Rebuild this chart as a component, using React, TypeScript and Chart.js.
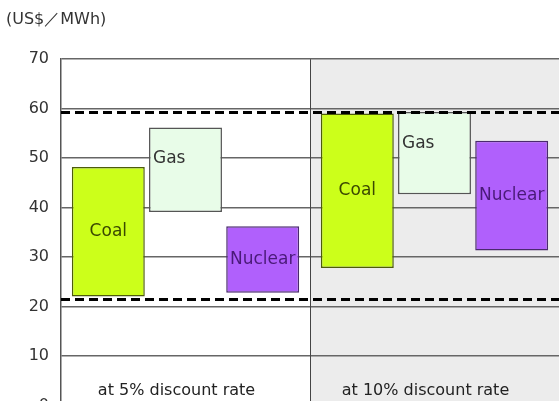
import React, { useEffect, useRef } from 'react';
import { Chart, registerables } from 'chart.js';

Chart.register(...registerables);

const categories = ['at 5% discount rate', 'at 10% discount rate'];
const coalRange: [number, number][] = [[22.0, 48.2], [27.8, 59.0]];
const gasRange: [number, number][] = [[39.1, 56.2], [42.7, 59.3]];
const nuclearRange: [number, number][] = [[22.8, 36.2], [31.3, 53.5]];
const rangeLines = [21.4, 59.2];
const yMin = 0;
const yMax = 70;
const yStep = 10;
const unitLabel = '(US$／MWh)';

const backgroundPlugin = {
  id: 'halfBackground',
  beforeDraw(chart: any) {
    const { ctx, chartArea, scales } = chart;
    const x = scales.x;
    const mid = (x.getPixelForValue(0) + x.getPixelForValue(1)) / 2;
    ctx.save();
    ctx.fillStyle = '#ececec';
    ctx.fillRect(mid, chartArea.top, chartArea.right - mid, chartArea.bottom - chartArea.top);
    ctx.restore();
  },
  beforeDatasetsDraw(chart: any) {
    const { ctx, chartArea, scales } = chart;
    const x = scales.x;
    const mid = Math.round((x.getPixelForValue(0) + x.getPixelForValue(1)) / 2) + 0.5;
    ctx.save();
    ctx.strokeStyle = '#444';
    ctx.lineWidth = 1;
    ctx.beginPath();
    ctx.moveTo(mid, chartArea.top);
    ctx.lineTo(mid, chartArea.bottom);
    ctx.stroke();
    ctx.restore();
  },
  afterDatasetsDraw(chart: any) {
    const { ctx, chartArea, scales } = chart;
    const y = scales.y;
    const x = scales.x;
    chart.data.datasets.forEach((ds: any, i: number) => {
      const meta = chart.getDatasetMeta(i);
      meta.data.forEach((el: any) => {
        const top = Math.min(el.y, el.base);
        const bottom = Math.max(el.y, el.base);
        ctx.save();
        ctx.font = '17px "DejaVu Sans", sans-serif';
        ctx.fillStyle = ds.labelColor;
        ctx.textBaseline = 'middle';
        if (ds.labelAnchor === 'topLeft') {
          ctx.textAlign = 'left';
          ctx.fillText(ds.label, el.x - el.width / 2 + 4, top + 31);
        } else {
          ctx.textAlign = 'center';
          ctx.fillText(ds.label, el.x, (top + bottom) / 2);
        }
        ctx.restore();
      });
    });
    ctx.save();
    ctx.strokeStyle = '#000';
    ctx.lineWidth = 3;
    ctx.setLineDash([9, 5]);
    rangeLines.forEach((v) => {
      const py = y.getPixelForValue(v);
      ctx.beginPath();
      ctx.moveTo(chartArea.left, py);
      ctx.lineTo(chartArea.right, py);
      ctx.stroke();
    });
    ctx.restore();
    ctx.save();
    ctx.font = '16px "DejaVu Sans", sans-serif';
    ctx.fillStyle = '#222';
    ctx.textAlign = 'center';
    ctx.textBaseline = 'middle';
    categories.forEach((c, i) => {
      ctx.fillText(c, x.getPixelForValue(i) - 9, chartArea.bottom - 15);
    });
    ctx.restore();
  },
};

export default function App() {
  const ref = useRef<HTMLCanvasElement | null>(null);
  useEffect(() => {
    if (!ref.current) return;
    const chart = new Chart(ref.current, {
      type: 'bar',
      data: {
        labels: categories,
        datasets: [
          {
            label: 'Coal',
            data: coalRange as any,
            backgroundColor: '#ccff1a',
            borderColor: '#4d5c0a',
            borderWidth: 1.5,
            borderSkipped: false,
            labelColor: '#3a4800',
            labelAnchor: 'center',
          } as any,
          {
            label: 'Gas',
            data: gasRange as any,
            backgroundColor: '#e8fce8',
            borderColor: '#555',
            borderWidth: 1.5,
            borderSkipped: false,
            labelColor: '#333',
            labelAnchor: 'topLeft',
          } as any,
          {
            label: 'Nuclear',
            data: nuclearRange as any,
            backgroundColor: '#b060fc',
            borderColor: '#4a2a6e',
            borderWidth: 1.5,
            borderSkipped: false,
            labelColor: '#4a1a78',
            labelAnchor: 'center',
          } as any,
        ],
      },
      options: {
        animation: false,
        responsive: false,
        devicePixelRatio: 1,
        categoryPercentage: 0.93,
        barPercentage: 0.945,
        layout: { padding: { left: 6, right: 0, top: 0, bottom: 16 } },
        plugins: {
          legend: { display: false },
          tooltip: { enabled: false },
          title: {
            display: true,
            text: unitLabel,
            align: 'start',
            color: '#333',
            font: { family: '"DejaVu Sans", sans-serif', size: 16, weight: 'normal' },
            padding: { top: 10, bottom: 30 },
          },
        },
        scales: {
          x: { display: false },
          y: {
            min: yMin,
            max: yMax,
            afterFit(scale: any) {
              scale.width = 55;
            },
            ticks: {
              stepSize: yStep,
              padding: 12,
              color: '#333',
              font: { family: '"DejaVu Sans", sans-serif', size: 16 },
            },
            grid: { color: '#666', lineWidth: 1.5, drawTicks: false },
            border: { display: true, color: '#555', width: 1.5 },
          },
        },
      },
      plugins: [backgroundPlugin],
    } as any);
    return () => chart.destroy();
  }, []);
  return (
    <div style={{ position: 'absolute', left: 0, top: 0, width: 559, height: 401, overflow: 'hidden', background: '#fff' }}>
      <canvas ref={ref} width={559} height={427} style={{ display: 'block' }} />
    </div>
  );
}
